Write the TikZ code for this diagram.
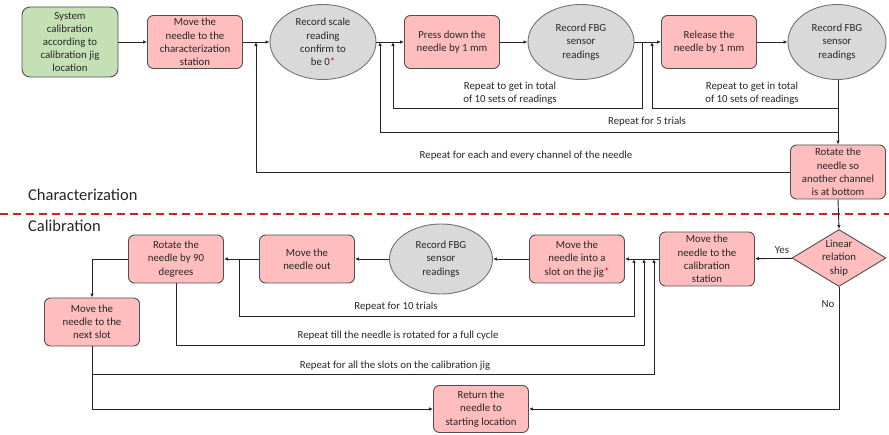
\documentclass[tikz,border=0pt]{standalone}
\usepackage{fontspec}
\setmainfont{Carlito}
\usetikzlibrary{shapes.geometric,arrows.meta}
\definecolor{pinkf}{HTML}{FFBDBD}
\definecolor{greenf}{HTML}{C5E0B4}
\definecolor{grayf}{HTML}{D9D9D9}
\definecolor{bord}{HTML}{505050}
\definecolor{txt}{HTML}{262626}
\definecolor{dashred}{HTML}{D02020}
\tikzset{
  base/.style={align=center, text=txt, font=\fontsize{10.8}{13.2}\selectfont, inner sep=0.5pt},
  pbox/.style={base, draw=bord, fill=pinkf, rounded corners=6pt, minimum width=95pt, minimum height=53pt, line width=0.9pt},
  gbox/.style={base, draw=bord, fill=greenf, rounded corners=8pt, minimum width=96pt, minimum height=70pt, line width=0.9pt},
  ell/.style={base, ellipse, draw=black!55, fill=grayf, minimum width=106pt, minimum height=75pt, inner sep=0pt, line width=0.9pt},
  dia/.style={base, diamond, draw=bord, fill=pinkf, minimum width=94pt, minimum height=57pt, inner sep=-10pt, aspect=1.6, line width=0.9pt},
  lbl/.style={base},
  sect/.style={text=txt, font=\fontsize{16.5}{19}\selectfont, anchor=west, inner sep=0pt},
  arr/.style={draw=black!85, line width=0.9pt, -{Latex[length=4pt,width=3.5pt]}},
}
\begin{document}
\begin{tikzpicture}[x=1pt,y=-1pt]
\useasboundingbox (0,0) rectangle (889,435);
% characterization row
\node[gbox] (sys) at (70,42) {System\\calibration\\according to\\calibration jig\\location};
\node[pbox] (mc) at (195,42) {Move the\\needle to the\\characterization\\station};
\node[ell] (rs) at (323,42) {Record scale\\reading\\confirm to\\be 0\textcolor{red}{*}};
\node[pbox] (pd) at (452,42) {Press down the\\needle by 1 mm};
\node[ell] (f1) at (581,42) {Record FBG\\sensor\\readings};
\node[pbox] (rl) at (709,42) {Release the\\needle by 1 mm};
\node[ell, minimum width=98pt] (f2) at (837,42) {Record FBG\\sensor\\readings};
\node[pbox, minimum height=54pt] (rot) at (838,172) {Rotate the\\needle so\\another channel\\is at bottom};

\draw[arr] (sys) -- (mc);
\draw[arr] (mc) -- (rs);
\draw[arr] (rs) -- (pd);
\draw[arr] (pd) -- (f1);
\draw[arr] (f1) -- (rl);
\draw[arr] (rl) -- (f2);
\draw[arr] (f2.south -| rot.north) -- (rot.north);

\coordinate (j1) at (642,42);
\coordinate (k1) at (393,42);
\draw[arr] (j1) -- ++(0,66) -| (k1);
\coordinate (j2) at (838,108);
\coordinate (k2) at (652,42);
\draw[arr] (j2) -| (k2);
\coordinate (j3) at (838,132);
\coordinate (k3) at (380,42);
\draw[arr] (j3) -| (k3);
\coordinate (k4) at (256,42);
\draw[arr] (rot.west) -| (k4);

\node[lbl] (l1) at (510,93) {Repeat to get in total\\of 10 sets of readings};
\node[lbl] (l2) at (752,93) {Repeat to get in total\\of 10 sets of readings};
\node[lbl] (l3) at (647,122) {Repeat for 5 trials};
\node[lbl] (l4) at (526,156) {Repeat for each and every channel of the needle};

% sections
\node[sect] (s1) at (28,195) {Characterization};
\coordinate (dl) at (0,214);
\coordinate (dr) at (889,214);
\draw[dashred, line width=1.6pt, dash pattern=on 8pt off 5pt] (dl) -- (dr);
\node[sect] (s2) at (28,226) {Calibration};

% calibration row
\node[dia] (lin) at (839,258) {Linear\\relation\\ship};
\node[pbox, minimum height=54pt] (mcal) at (707,259) {Move the\\needle to the\\calibration\\station};
\node[pbox, minimum height=48pt] (slot) at (577,259) {Move the\\needle into a\\slot on the jig\textcolor{red}{*}};
\node[ell, minimum width=103pt, minimum height=70pt] (f3) at (441,259) {Record FBG\\sensor\\readings};
\node[pbox, minimum height=48pt] (out) at (307,259) {Move the\\needle out};
\node[pbox, minimum height=48pt] (r90) at (176,259) {Rotate the\\needle by 90\\degrees};
\node[pbox, minimum height=48pt] (next) at (92,322) {Move the\\needle to the\\next slot};
\node[pbox, minimum height=47pt] (ret) at (481,409) {Return the\\needle to\\starting location};

\draw[arr] (rot.south) -- (lin.north);
\draw[arr] (lin) -- (mcal);
\draw[arr] (mcal) -- (slot);
\draw[arr] (slot) -- (f3);
\draw[arr] (f3) -- (out);
\draw[arr] (out) -- (r90);
\draw[arr] (r90.west) -| (next.north);
\draw[arr] (lin.south) |- (ret.east);
\draw[arr] (next.south) |- (ret.west);

\coordinate (c1) at (239,259);
\coordinate (d1) at (634,259);
\draw[arr] (c1) -- ++(0,57) -| (d1);
\coordinate (d2) at (644,259);
\draw[arr] (r90.south) -- ++(0,62) -| (d2);
\coordinate (c3) at (92,374);
\coordinate (d3) at (654,259);
\draw[arr] (c3) -| (d3);

\node[lbl] (y) at (782,250) {Yes};
\node[lbl] (n) at (828,304) {No};
\node[lbl] (m1) at (396,307) {Repeat for 10 trials};
\node[lbl] (m2) at (398,336) {Repeat till the needle is rotated for a full cycle};
\node[lbl] (m3) at (395,366) {Repeat for all the slots on the calibration jig};
\end{tikzpicture}
\end{document}
